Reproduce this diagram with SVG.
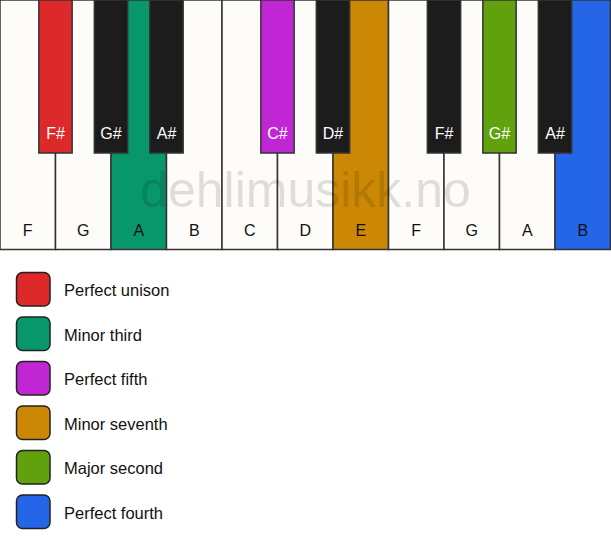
<svg xmlns="http://www.w3.org/2000/svg" width="611" height="550" viewBox="0 0 611 550">
<style>
.w{fill:#fdfcf8;stroke:#333;stroke-width:1.5}
.b{fill:#1c1c1c;stroke:#333;stroke-width:1.5}
.wl{font-family:"Liberation Sans",Arial,sans-serif;font-size:16px;fill:#111;text-anchor:middle}
.bl{font-family:"Liberation Sans",Arial,sans-serif;font-size:16px;fill:#fff;text-anchor:middle}
.sw{stroke:#222;stroke-width:1.5}
.lt{font-family:"Liberation Sans",Arial,sans-serif;font-size:16.5px;fill:#111}
.wm{font-family:"Liberation Sans",Arial,sans-serif;font-size:50px;fill:#000;fill-opacity:0.12;text-anchor:middle}
</style>
<rect width="611" height="550" fill="#fff"/>
<g id="white-keys">
<g id="key-F1"><rect class="w" x="0" y="0" width="55.5" height="249.5"/><text class="wl" x="27.75" y="235.5">F</text></g>
<g id="key-G1"><rect class="w" x="55.5" y="0" width="55.5" height="249.5"/><text class="wl" x="83.25" y="235.5">G</text></g>
<g id="key-A1"><rect class="w" x="111" y="0" width="55.5" height="249.5" style="fill:#08976a"/><text class="wl" x="138.75" y="235.5">A</text></g>
<g id="key-B1"><rect class="w" x="166.5" y="0" width="55.5" height="249.5"/><text class="wl" x="194.25" y="235.5">B</text></g>
<g id="key-C"><rect class="w" x="222" y="0" width="55.5" height="249.5"/><text class="wl" x="249.75" y="235.5">C</text></g>
<g id="key-D"><rect class="w" x="277.5" y="0" width="55.5" height="249.5"/><text class="wl" x="305.25" y="235.5">D</text></g>
<g id="key-E"><rect class="w" x="333" y="0" width="55.5" height="249.5" style="fill:#cc8805"/><text class="wl" x="360.75" y="235.5">E</text></g>
<g id="key-F2"><rect class="w" x="388.5" y="0" width="55.5" height="249.5"/><text class="wl" x="416.25" y="235.5">F</text></g>
<g id="key-G2"><rect class="w" x="444" y="0" width="55.5" height="249.5"/><text class="wl" x="471.75" y="235.5">G</text></g>
<g id="key-A2"><rect class="w" x="499.5" y="0" width="55.5" height="249.5"/><text class="wl" x="527.25" y="235.5">A</text></g>
<g id="key-B2"><rect class="w" x="555" y="0" width="55.5" height="249.5" style="fill:#2566e8"/><text class="wl" x="582.75" y="235.5">B</text></g>
</g>
<g id="black-keys">
<g id="key-Fs1"><rect class="b" x="38.85" y="0" width="33.3" height="153" style="fill:#dd2929"/><text class="bl" x="55.5" y="139">F#</text></g>
<g id="key-Gs1"><rect class="b" x="94.35" y="0" width="33.3" height="153"/><text class="bl" x="111" y="139">G#</text></g>
<g id="key-As1"><rect class="b" x="149.85" y="0" width="33.3" height="153"/><text class="bl" x="166.5" y="139">A#</text></g>
<g id="key-Cs"><rect class="b" x="260.85" y="0" width="33.3" height="153" style="fill:#c026d3"/><text class="bl" x="277.5" y="139">C#</text></g>
<g id="key-Ds"><rect class="b" x="316.35" y="0" width="33.3" height="153"/><text class="bl" x="333" y="139">D#</text></g>
<g id="key-Fs2"><rect class="b" x="427.35" y="0" width="33.3" height="153"/><text class="bl" x="444" y="139">F#</text></g>
<g id="key-Gs2"><rect class="b" x="482.85" y="0" width="33.3" height="153" style="fill:#62a10e"/><text class="bl" x="499.5" y="139">G#</text></g>
<g id="key-As2"><rect class="b" x="538.35" y="0" width="33.3" height="153"/><text class="bl" x="555" y="139">A#</text></g>
</g>
<text class="wm" x="305.5" y="207">dehlimusikk.no</text>
<g id="legend">
<g id="leg-unison"><rect class="sw" x="16.5" y="272.5" width="33.5" height="33.5" rx="6" fill="#dd2929"/><text class="lt" x="64" y="296">Perfect unison</text></g>
<g id="leg-minor-third"><rect class="sw" x="16.5" y="317" width="33.5" height="33.5" rx="6" fill="#08976a"/><text class="lt" x="64" y="340.5">Minor third</text></g>
<g id="leg-fifth"><rect class="sw" x="16.5" y="361.5" width="33.5" height="33.5" rx="6" fill="#c026d3"/><text class="lt" x="64" y="385">Perfect fifth</text></g>
<g id="leg-minor-seventh"><rect class="sw" x="16.5" y="406" width="33.5" height="33.5" rx="6" fill="#cc8805"/><text class="lt" x="64" y="429.5">Minor seventh</text></g>
<g id="leg-major-second"><rect class="sw" x="16.5" y="450.5" width="33.5" height="33.5" rx="6" fill="#62a10e"/><text class="lt" x="64" y="474">Major second</text></g>
<g id="leg-fourth"><rect class="sw" x="16.5" y="495" width="33.5" height="33.5" rx="6" fill="#2566e8"/><text class="lt" x="64" y="518.5">Perfect fourth</text></g>
</g>
</svg>
